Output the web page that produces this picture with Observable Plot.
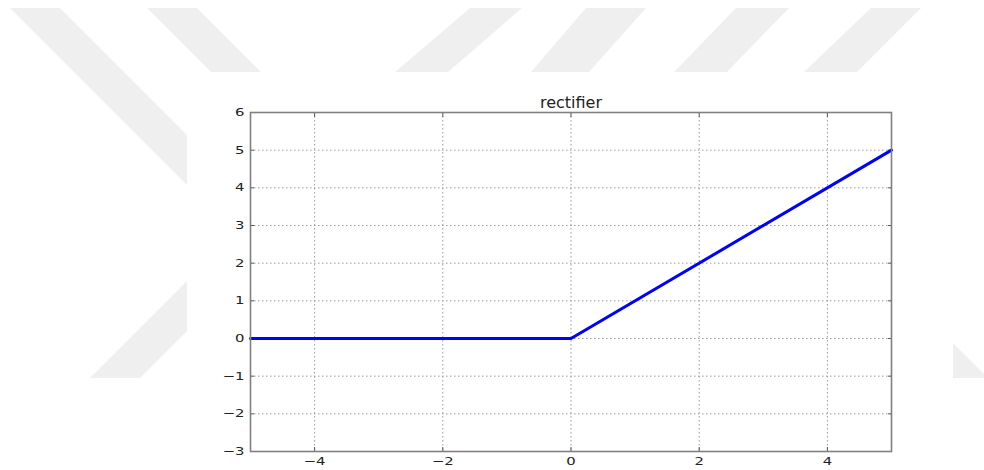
<!DOCTYPE html>
<html><head><meta charset="utf-8">
<script src="https://cdn.jsdelivr.net/npm/d3@7"></script>
<script src="https://cdn.jsdelivr.net/npm/@observablehq/plot@0.6"></script>
<style>
html,body{margin:0;padding:0;background:#fff;}
#wrap{position:relative;width:984px;height:470px;overflow:hidden;background:#fff;}
#bg{position:absolute;left:0;top:0;}
#chart{position:absolute;left:187px;top:72px;width:766px;height:398px;background:#fff;}
</style></head><body>
<div id="wrap">
<svg id="bg" width="984" height="470" fill="#efefef">
  <polygon points="10,8 60,8 470,418 420,418"/>
  <polygon points="147,8 197,8 261,72 211,72"/>
  <polygon points="470,8 522,8 448,72 395,72"/>
  <polygon points="586,8 646,8 589,72 531,72"/>
  <polygon points="736,8 789,8 727,72 674,72"/>
  <polygon points="871,8 921,8 857,72 804,72"/>
  <polygon points="90,378 140,378 240,278 190,278"/>
  <polygon points="860,250 988,378 860,378"/>
</svg>
<div id="chart"></div>
</div>
<script>
const title = "rectifier";
const xValues = [-5, 0, 5];
const yValues = [0, 0, 5];
const xTicks = [-4, -2, 0, 2, 4];
const yTicks = [-3, -2, -1, 0, 1, 2, 3, 4, 5, 6];
const xDomain = [-5, 5];
const yDomain = [-3, 6];

const points = xValues.map((x, i) => ({x, y: yValues[i]}));
const gridStyle = {stroke: "#9a9a9a", strokeOpacity: 1, strokeWidth: 1, strokeDasharray: "1.5,2.5"};
const tickStyle = {stroke: "#555", fill: "none", label: null, tickSize: -4};
const labelStyle = {tickSize: 0, tickPadding: 6, fill: "#222", label: null};

const chart = Plot.plot({
  width: 766,
  height: 398,
  marginTop: 40,
  marginRight: 62,
  marginBottom: 19,
  marginLeft: 63,
  style: {fontFamily: "DejaVu Sans, sans-serif", fontSize: "11px", background: "white"},
  x: {domain: xDomain},
  y: {domain: yDomain},
  marks: [
    Plot.gridX(xTicks, gridStyle),
    Plot.gridY(yTicks, gridStyle),
    Plot.axisX(xTicks, {anchor: "bottom", ...labelStyle}),
    Plot.axisY(yTicks, {anchor: "left", ...labelStyle}),
    Plot.axisX(xTicks, {anchor: "bottom", ...tickStyle}),
    Plot.axisX(xTicks, {anchor: "top", ...tickStyle}),
    Plot.axisY(yTicks, {anchor: "left", ...tickStyle}),
    Plot.axisY(yTicks, {anchor: "right", ...tickStyle}),
    Plot.line(points, {x: "x", y: "y", stroke: "#0000ff", strokeWidth: 3, strokeLinejoin: "round"}),
    Plot.frame({stroke: "#808080", strokeWidth: 1.6}),
    Plot.text([title], {frameAnchor: "top", lineAnchor: "bottom", dy: -5, fontSize: 16, fill: "#222", ariaLabel: "title"})
  ]
});
document.getElementById("chart").appendChild(chart);

// matplotlib-style horizontally stretched text
chart.querySelectorAll('g[aria-label$="tick label"] text').forEach(t => {
  t.setAttribute("transform", (t.getAttribute("transform") || "") + " scale(1.35,1)");
});
chart.querySelectorAll('g[aria-label="title"] text').forEach(t => {
  t.setAttribute("transform", (t.getAttribute("transform") || "") + " scale(1.22,1)");
});
</script>
</body></html>
